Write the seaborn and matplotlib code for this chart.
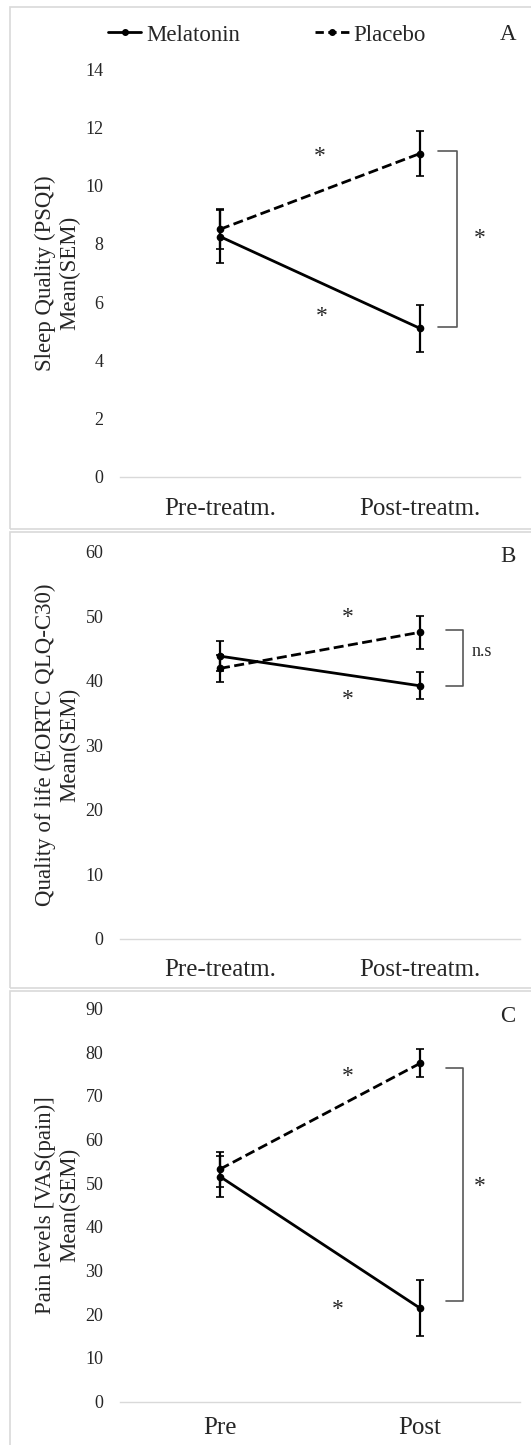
import matplotlib
matplotlib.use('Agg')
import matplotlib.pyplot as plt
from matplotlib.lines import Line2D
from matplotlib.patches import Rectangle
import pandas as pd
import seaborn as sns

# data (mean and SEM)
groups = ['Melatonin', 'Placebo']
times_ab = ['Pre-treatm.', 'Post-treatm.']
times_c = ['Pre', 'Post']

sleep_mel = [8.25, 5.1]
sleep_mel_sem = [0.9, 0.8]
sleep_pla = [8.5, 11.1]
sleep_pla_sem = [0.68, 0.77]

qol_mel = [43.8, 39.2]
qol_mel_sem = [2.3, 2.1]
qol_pla = [41.9, 47.5]
qol_pla_sem = [2.1, 2.6]

pain_mel = [51.5, 21.4]
pain_mel_sem = [4.7, 6.4]
pain_pla = [53.2, 77.4]
pain_pla_sem = [4.0, 3.2]

# significance marks: (bracket top, bracket bottom), star heights
brackets = [(11.2, 5.15), (47.8, 39.1), (76.3, 23.1)]
star_top = [11.0, 49.8, 74.5]
star_bot = [5.5, 37.0, 21.2]
side_mark = ['*', 'n.s', '*']
side_y = [8.2, 44.5, 49.3]

sns.set_style('white')
plt.rcParams['font.family'] = ['Liberation Serif', 'DejaVu Serif']

W, H = 531, 1445
fig = plt.figure(figsize=(W / 100, H / 100), dpi=100)


def px_rect(y0, y1):
    # panel frame, pixel coords from top
    r = Rectangle((10 / W, 1 - y1 / H), (W + 5 - 10) / W, (y1 - y0) / H,
                  transform=fig.transFigure, fill=False, ec='#d9d9d9', lw=1.2)
    fig.add_artist(r)


px_rect(7, 529)
px_rect(532, 988)
px_rect(991, 1452)

panels = [
    dict(top=69, bot=477, times=times_ab, mel=sleep_mel, mel_e=sleep_mel_sem,
         pla=sleep_pla, pla_e=sleep_pla_sem, ymax=14, step=2,
         ylabel='Sleep Quality (PSQI)\nMean(SEM)', tag='A', tag_y=35,
         xpad=15, star_x=(0.5, 0.505), br_x=(0.795, 0.8425), side_x=0.9),
    dict(top=551.7, bot=938.5, times=times_ab, mel=qol_mel, mel_e=qol_mel_sem,
         pla=qol_pla, pla_e=qol_pla_sem, ymax=60, step=10,
         ylabel='Quality of life (EORTC QLQ-C30)\nMean(SEM)', tag='B', tag_y=557,
         xpad=15, star_x=(0.57, 0.57), br_x=(0.815, 0.8575), side_x=0.905),
    dict(top=1008.3, bot=1401.7, times=times_c, mel=pain_mel, mel_e=pain_mel_sem,
         pla=pain_pla, pla_e=pain_pla_sem, ymax=90, step=10,
         ylabel='Pain levels [VAS(pain)]\nMean(SEM)', tag='C', tag_y=1017,
         xpad=11, star_x=(0.57, 0.545), br_x=(0.815, 0.8575), side_x=0.9),
]

for i, p in enumerate(panels):
    ax = fig.add_axes([120 / W, 1 - p['bot'] / H, 400 / W, (p['bot'] - p['top']) / H])
    df = pd.DataFrame({
        'Time': p['times'] * 2,
        'Group': [groups[0]] * 2 + [groups[1]] * 2,
        'Value': p['mel'] + p['pla'],
    })
    sns.lineplot(data=df, x='Time', y='Value', style='Group', style_order=groups,
                 dashes={'Melatonin': '', 'Placebo': (3.6, 1.6)},
                 color='black', lw=2.0, legend=False, ax=ax, sort=False)
    ax.errorbar(p['times'], p['mel'], yerr=p['mel_e'], fmt='o', ms=4.5, color='black',
                elinewidth=1.6, capsize=3, capthick=1.2)
    ax.errorbar(p['times'], p['pla'], yerr=p['pla_e'], fmt='o', ms=4.5, color='black',
                elinewidth=1.6, capsize=3, capthick=1.2)

    ax.set_xlim(-0.5, 1.5)
    ax.set_ylim(0, p['ymax'])
    ax.set_yticks(range(0, p['ymax'] + 1, p['step']))
    for s in ['top', 'right', 'left']:
        ax.spines[s].set_visible(False)
    ax.spines['bottom'].set_color('#d9d9d9')
    ax.spines['bottom'].set_linewidth(1.0)
    ax.tick_params(axis='y', length=0, pad=12, labelsize=13)
    ax.tick_params(axis='x', length=0, pad=p['xpad'], labelsize=18)
    ax.set_xlabel('')
    ax.set_ylabel(p['ylabel'], fontsize=16.5)
    ax.yaxis.set_label_coords(-0.1, 0.5)

    tr = ax.get_yaxis_transform()
    y0, y1 = brackets[i]
    bx0, bx1 = p['br_x']
    ax.plot([bx0, bx1, bx1, bx0], [y0, y0, y1, y1], transform=tr,
            color='#595959', lw=1.2, clip_on=False)
    ax.text(p['side_x'], side_y[i], side_mark[i], transform=tr, ha='center',
            va='center', fontsize=17 if side_mark[i] == '*' else 13)
    ax.text(p['star_x'][0], star_top[i], '*', transform=tr, ha='center', va='center', fontsize=17)
    ax.text(p['star_x'][1], star_bot[i], '*', transform=tr, ha='center', va='center', fontsize=17)

    fig.text(508 / W, 1 - p['tag_y'] / H, p['tag'], ha='center', va='center', fontsize=16.5)

handles = [Line2D([], [], color='black', lw=2.0, marker='o', ms=4),
           Line2D([], [], color='black', lw=2.0, ls=(0, (3, 1.6)), marker='o', ms=4)]
fig.legend(handles, groups, loc='center left', bbox_to_anchor=(108 / W, 1 - 35 / H),
           ncol=2, frameon=False, fontsize=16.5, handlelength=1.45, handletextpad=0.2,
           columnspacing=3.3, borderpad=0, borderaxespad=0, numpoints=1)

fig.savefig('out.png', dpi=100)
